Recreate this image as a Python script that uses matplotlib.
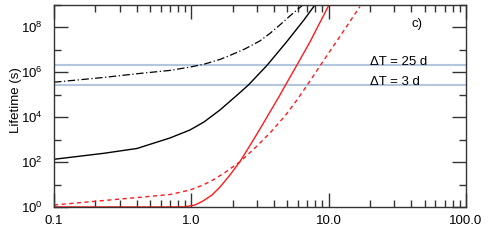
import numpy as np
import matplotlib
matplotlib.use("Agg")
import matplotlib.pyplot as plt
from matplotlib.ticker import FixedLocator, FuncFormatter

plt.rcParams['font.family'] = ['Liberation Sans', 'DejaVu Sans']
plt.rcParams['mathtext.fontset'] = 'custom'
plt.rcParams['mathtext.rm'] = 'Liberation Sans'
plt.rcParams['mathtext.default'] = 'rm'

# Courbes (x, log10 de la durée de vie en s)
dashdot_x = [0.1, 0.231, 0.423, 0.699, 0.994, 1.237, 1.618, 1.912, 2.460, 3.162, 3.740, 4.423, 5.231, 6.505]
dashdot_logy = [5.557, 5.771, 5.949, 6.083, 6.239, 6.359, 6.573, 6.751, 7.041, 7.398, 7.732, 8.111, 8.512, 9.002]

black_x = [0.1, 0.231, 0.402, 0.699, 0.978, 1.237, 1.618, 2.080, 2.586, 3.556, 4.973, 6.614, 7.953]
black_logy = [2.126, 2.393, 2.607, 3.075, 3.431, 3.788, 4.323, 4.902, 5.414, 6.306, 7.375, 8.333, 9.002]

red_x = [0.1, 0.699, 0.899, 1.063, 1.216, 1.414, 1.618, 1.912, 2.262, 2.674, 3.162, 3.740, 4.423, 4.810, 5.883, 7.313, 10.06]
red_logy = [0.004, 0.004, 0.009, 0.089, 0.267, 0.535, 0.891, 1.426, 2.028, 2.741, 3.476, 4.234, 4.991, 5.392, 6.328, 7.353, 9.002]

reddash_x = [0.1, 0.183, 0.423, 0.699, 0.978, 1.216, 1.438, 1.759, 2.262, 2.908, 3.740, 4.810, 5.883, 6.839, 8.649, 12.09, 16.91]
reddash_logy = [0.089, 0.236, 0.432, 0.557, 0.758, 0.980, 1.203, 1.537, 2.019, 2.629, 3.298, 4.055, 4.768, 5.348, 6.283, 7.598, 8.926]

# Durées de référence (jours -> secondes)
dt_days = [25, 3]
dt_labels = ["ΔT = 25 d", "ΔT = 3 d"]

x_ticks = [0.1, 1.0, 10.0, 100.0]
x_ticklabels = ["0.1", "1.0", "10.0", "100.0"]

fig = plt.figure(figsize=(4.91, 2.45), dpi=100)
ax = fig.add_axes([0.110, 0.155, 0.839, 0.825])

for d, lab in zip(dt_days, dt_labels):
    ax.axhline(d * 86400, color='#b4c6de', lw=1.5, zorder=1)
    ax.text(20, d * 86400, lab, fontsize=9.5, va='baseline', ha='left')

ax.plot(dashdot_x, 10 ** np.array(dashdot_logy), color='black', lw=0.9,
        dashes=(6, 2, 1, 2))
ax.plot(black_x, 10 ** np.array(black_logy), color='black', lw=1.0)
ax.plot(red_x, 10 ** np.array(red_logy), color='#ff1a1a', lw=1.0)
ax.plot(reddash_x, 10 ** np.array(reddash_logy), color='#ff1a1a', lw=1.0,
        dashes=(3, 2.5))

ax.text(40, 10 ** 8.15, "c)", fontsize=9.5, va='center', ha='left')

ax.set_xscale('log')
ax.set_yscale('log')
ax.set_xlim(0.1, 100)
ax.set_ylim(1, 1e9)

ax.xaxis.set_major_locator(FixedLocator(x_ticks))
ax.xaxis.set_major_formatter(FuncFormatter(lambda v, p: x_ticklabels[x_ticks.index(v)] if v in x_ticks else ""))
minor_x = [m * 10.0 ** e for e in range(-1, 2) for m in range(2, 10)]
ax.xaxis.set_minor_locator(FixedLocator(minor_x))
ax.xaxis.set_minor_formatter(FuncFormatter(lambda v, p: ""))

ax.yaxis.set_major_locator(FixedLocator([10.0 ** e for e in range(0, 10, 2)]))
ax.yaxis.set_major_formatter(FuncFormatter(lambda v, p: r"$10^{%d}$" % round(np.log10(v))))
ax.yaxis.set_minor_locator(FixedLocator([10.0 ** e for e in range(1, 10, 2)]))
ax.yaxis.set_minor_formatter(FuncFormatter(lambda v, p: ""))

ax.tick_params(which='both', direction='in', top=True, right=True, labelsize=9.5, width=1.0, color='#333333')
ax.tick_params(which='major', length=10)
ax.tick_params(which='minor', length=5)
ax.tick_params(axis='x', which='major', pad=6)
ax.tick_params(axis='y', which='major', pad=8)
for s in ax.spines.values():
    s.set_linewidth(1.0)
    s.set_color('#333333')

ax.set_ylabel("Lifetime (s)", fontsize=9.5)
ax.yaxis.set_label_coords(-0.078, 0.53)

fig.savefig("out.png", dpi=100)
